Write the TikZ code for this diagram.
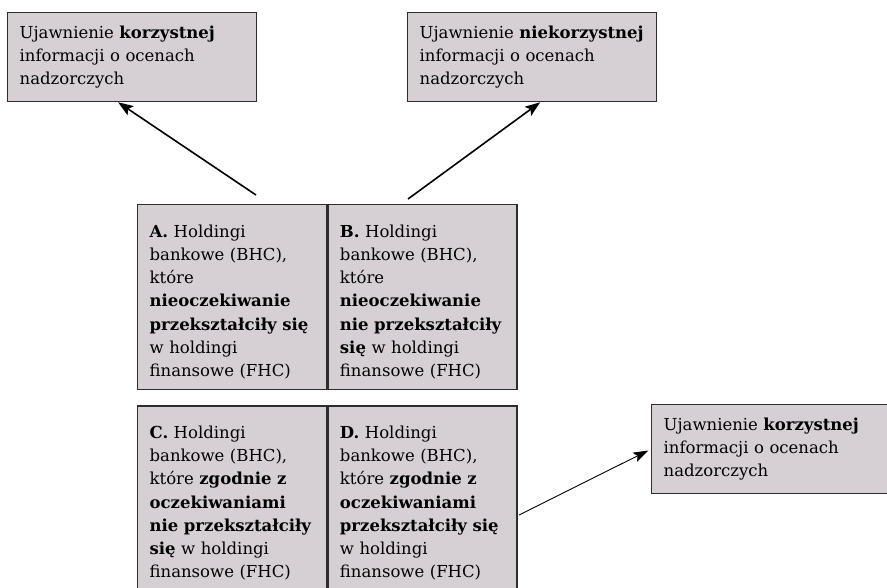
\documentclass[tikz,border=0pt]{standalone}
\usepackage{fontspec}
\setmainfont{DejaVu Serif}
\usetikzlibrary{positioning,arrows.meta}
\definecolor{boxfill}{RGB}{214,208,212}
\definecolor{boxline}{RGB}{45,45,45}
\tikzset{
  panel/.style={draw=boxline, line width=1.3pt, fill=boxfill, align=left,
    inner xsep=12pt, inner ysep=0pt, anchor=north west,
    font={\fontsize{16.5}{23.2}\selectfont}},
  outcome/.style={panel, text width=225pt, minimum height=89pt},
  group/.style={panel, text width=165pt, minimum height=185pt,
    execute at begin node={\rule{0pt}{22pt}}},
  bigarrow/.style={line width=1.6pt, -{Stealth[length=15pt,width=11pt,inset=3pt]}},
  thinarrow/.style={line width=0.9pt, -{Stealth[length=15pt,width=10pt,inset=3pt]}}
}
\begin{document}
\begin{tikzpicture}[x=1pt,y=1pt]
\useasboundingbox (0,0) rectangle (887,-587);
\clip (0,0) rectangle (887,-587);
% outcomes
\node[outcome] (ul) at (7,-12) {Ujawnienie \textbf{korzystnej}\\ informacji o ocenach\\ nadzorczych};
\node[outcome] (ur) at (407,-12) {Ujawnienie \textbf{niekorzystnej}\\ informacji o ocenach\\ nadzorczych};
\node[outcome] (rb) at (651,-404) {Ujawnienie \textbf{korzystnej}\\ informacji o ocenach\\ nadzorczych};
% groups
\node[group] (A) at (137,-204) {\textbf{A.} Holdingi\\ bankowe (BHC),\\ które\\ \textbf{nieoczekiwanie}\\ \textbf{przekształciły się}\\ w holdingi\\ finansowe (FHC)};
\node[group, right=0pt of A.north east, anchor=north west] (B) {\textbf{B.} Holdingi\\ bankowe (BHC),\\ które\\ \textbf{nieoczekiwanie}\\ \textbf{nie przekształciły}\\ \textbf{się} w holdingi\\ finansowe (FHC)};
\node[group, below=15pt of A.south west, anchor=north west] (C) {\textbf{C.} Holdingi\\ bankowe (BHC),\\ które \textbf{zgodnie z}\\ \textbf{oczekiwaniami}\\ \textbf{nie przekształciły}\\ \textbf{się} w holdingi\\ finansowe (FHC)};
\node[group, right=0pt of C.north east, anchor=north west] (D) {\textbf{D.} Holdingi\\ bankowe (BHC),\\ które \textbf{zgodnie z}\\ \textbf{oczekiwaniami}\\ \textbf{przekształciły się}\\ w holdingi\\ finansowe (FHC)};
% arrows
\coordinate (lfrom) at (256,-195);
\coordinate (rfrom) at (408,-199);
\coordinate (dfrom) at (519,-515);
\draw[bigarrow] (lfrom) -- ([xshift=-14pt]ul.south);
\draw[bigarrow] (rfrom) -- ([xshift=8pt]ur.south);
\draw[thinarrow, shorten >=3pt] (dfrom) -- (rb.west);
\end{tikzpicture}
\end{document}
